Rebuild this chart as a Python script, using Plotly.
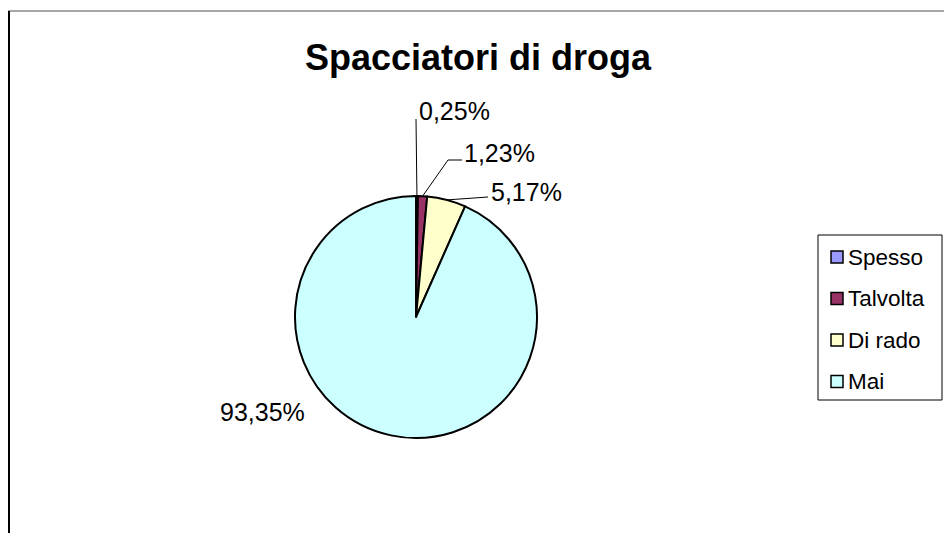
import math
import plotly.graph_objects as go

# Survey answers: how often drug dealers are seen
categories = ["Spesso", "Talvolta", "Di rado", "Mai"]
values = [0.25, 1.23, 5.17, 93.35]
colors = ["#9999FF", "#993366", "#FFFFCC", "#CCFFFF"]
title_text = "Spacciatori di droga"

W, H = 944, 533
FONT = "Arial, Liberation Sans, sans-serif"

# pie geometry in pixels (margins are zero, so paper == canvas)
CX, CY, R = 416, 317, 121


def px(x):
    return x / W


def py(y):
    return 1 - y / H


def fmt(v):
    return f"{v:.2f}".replace(".", ",") + "%"


def edge_point(i):
    """Point on the rim at the middle of slice i (clockwise from 12 o'clock)."""
    total = sum(values)
    start = sum(values[:i])
    mid = (start + values[i] / 2) / total * 2 * math.pi
    return CX + R * math.sin(mid), CY - R * math.cos(mid)


fig = go.Figure(
    go.Pie(
        labels=categories,
        values=values,
        marker=dict(colors=colors, line=dict(color="#000000", width=2)),
        sort=False,
        direction="clockwise",
        rotation=0,
        textinfo="none",
        hoverinfo="label+percent",
        showlegend=False,
        domain=dict(x=[px(CX - R), px(CX + R)], y=[py(CY + R), py(CY - R)]),
    )
)

shapes = []
annotations = []

# label layout: (leader line path after the rim point, text anchor)
label_layout = [
    dict(path=[(416, 119)], text=(417, 111), anchor="left"),
    dict(path=[(448, 160), (462, 160)], text=(462, 153), anchor="left"),
    dict(path=[(488, 197)], text=(489, 192), anchor="left"),
    dict(path=[], text=(262, 412), anchor="center"),
]

for i, lay in enumerate(label_layout):
    if lay["path"]:
        pts = [edge_point(i)] + lay["path"]
        d = "M " + " L ".join(f"{px(x)},{py(y)}" for x, y in pts)
        shapes.append(
            dict(type="path", xref="paper", yref="paper", path=d,
                 line=dict(color="#000000", width=1))
        )
    tx, ty = lay["text"]
    annotations.append(
        dict(x=px(tx), y=py(ty), xref="paper", yref="paper", text=fmt(values[i]),
             showarrow=False, xanchor=lay["anchor"], yanchor="middle",
             font=dict(family=FONT, size=25, color="#000000"))
    )

# title
annotations.append(
    dict(x=px(478), y=py(57), xref="paper", yref="paper",
         text=f"<b>{title_text}</b>", showarrow=False,
         xanchor="center", yanchor="middle",
         font=dict(family=FONT, size=36, color="#000000"))
)

# legend box with swatches
shapes.append(dict(type="rect", xref="paper", yref="paper",
                   x0=px(818), x1=px(942), y0=py(400), y1=py(235),
                   line=dict(color="#000000", width=1), fillcolor="#FFFFFF"))
for k, (cat, col) in enumerate(zip(categories, colors)):
    yc = 257 + k * 41.5
    shapes.append(dict(type="rect", xref="paper", yref="paper",
                       x0=px(831), x1=px(843), y0=py(yc + 6), y1=py(yc - 6),
                       line=dict(color="#000000", width=1.5), fillcolor=col))
    annotations.append(
        dict(x=px(846), y=py(yc), xref="paper", yref="paper", text=cat,
             showarrow=False, xanchor="left", yanchor="middle",
             font=dict(family=FONT, size=22.5, color="#000000"))
    )

# frame edges
shapes.append(dict(type="line", xref="paper", yref="paper",
                   x0=px(8), x1=px(944), y0=py(11), y1=py(11),
                   line=dict(color="#888888", width=1.5)))
shapes.append(dict(type="line", xref="paper", yref="paper",
                   x0=px(9), x1=px(9), y0=py(11), y1=py(533),
                   line=dict(color="#000000", width=2)))

fig.update_layout(
    width=W,
    height=H,
    margin=dict(l=0, r=0, t=0, b=0),
    paper_bgcolor="#FFFFFF",
    plot_bgcolor="#FFFFFF",
    shapes=shapes,
    annotations=annotations,
    showlegend=False,
)

fig.write_html("out.html")
